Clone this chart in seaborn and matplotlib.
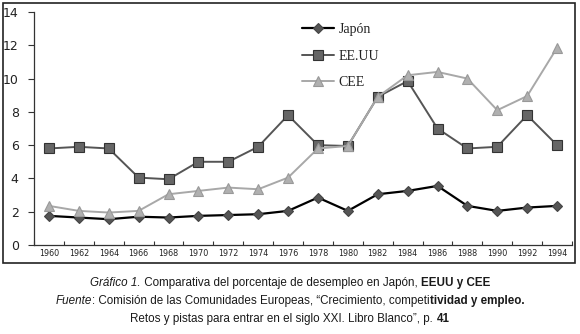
import matplotlib
matplotlib.use("Agg")
import matplotlib.pyplot as plt
import seaborn as sns
import pandas as pd
from matplotlib import font_manager as fm
from matplotlib.patches import Rectangle

years = [1960, 1962, 1964, 1966, 1968, 1970, 1972, 1974, 1976, 1978,
         1980, 1982, 1984, 1986, 1988, 1990, 1992, 1994]
japon = [1.75, 1.65, 1.55, 1.7, 1.65, 1.75, 1.8, 1.85, 2.05, 2.85,
         2.05, 3.05, 3.25, 3.55, 2.35, 2.05, 2.25, 2.35]
eeuu = [5.8, 5.9, 5.8, 4.05, 3.95, 5.0, 5.0, 5.9, 7.8, 6.0,
        5.95, 8.9, 9.85, 7.0, 5.8, 5.9, 7.8, 6.0]
cee = [2.35, 2.05, 1.95, 2.05, 3.05, 3.25, 3.45, 3.35, 4.05, 5.8,
       5.95, 8.9, 10.2, 10.4, 10.0, 8.1, 8.95, 11.85]
series_names = ["Japón", "EE.UU", "CEE"]
yticks = [0, 2, 4, 6, 8, 10, 12, 14]

names = [f.name for f in fm.fontManager.ttflist]
narrow = "Liberation Sans Narrow" if "Liberation Sans Narrow" in names else "Liberation Sans"
serif = "Liberation Serif"

sns.set_theme(style="white")
plt.rcParams["font.family"] = ["DejaVu Sans"]

fig = plt.figure(figsize=(5.8, 3.34), dpi=100)
ax = fig.add_axes([34/580, 1-245/334, (572-34)/580, (245-12)/334])

df = pd.DataFrame({"year": years, "Japón": japon, "EE.UU": eeuu, "CEE": cee})
styles = {
    "Japón": dict(color="black", marker="D", markersize=5, markerfacecolor="#555555",
                  markeredgecolor="#444444", linewidth=1.6),
    "EE.UU": dict(color="#555555", marker="s", markersize=6.5, markerfacecolor="#666666",
                  markeredgecolor="#333333", linewidth=1.4),
    "CEE": dict(color="#a8a8a8", marker="^", markersize=7.5, markerfacecolor="#b0b0b0",
                markeredgecolor="#999999", linewidth=1.4),
}
for name in series_names:
    st = styles[name]
    sns.lineplot(data=df, x="year", y=name, ax=ax, label=name, color=st["color"],
                 marker=st["marker"], markersize=st["markersize"],
                 markerfacecolor=st["markerfacecolor"], markeredgecolor=st["markeredgecolor"],
                 markeredgewidth=0.8, linewidth=st["linewidth"])

ax.set_xlim(years[0] - 1, years[-1] + 1)
ax.set_ylim(0, 14)
ax.set_yticks(yticks)
ax.set_yticklabels([str(v) for v in yticks], fontsize=9, color="#222222")
ax.set_xticks(years)
ax.set_xticklabels([str(y) for y in years], fontsize=5.8, color="#222222")
ax.set_xticks([y - 1 for y in years] + [years[-1] + 1], minor=True)
ax.tick_params(axis="x", which="major", length=0, pad=3)
ax.tick_params(axis="x", which="minor", direction="in", length=3, width=0.8, color="#333333", bottom=True)
ax.tick_params(axis="y", which="major", direction="out", length=4, width=0.8, color="#333333", left=True, pad=7)
ax.set_xlabel("")
ax.set_ylabel("")
for s in ["top", "right"]:
    ax.spines[s].set_visible(False)
for s in ["left", "bottom"]:
    ax.spines[s].set_color("#333333")
    ax.spines[s].set_linewidth(0.9)
ax.grid(False)

leg = ax.legend(loc="upper left", bbox_to_anchor=(0.475, 1.005), frameon=False,
                prop={"family": serif, "size": 10}, handlelength=2.3,
                labelspacing=0.95, handletextpad=0.35)
for t in leg.get_texts():
    t.set_color("#222222")

fig.patches.append(Rectangle((3/580, 1-263/334), 572/580, 260/334, transform=fig.transFigure,
                             fill=False, edgecolor="#222222", linewidth=1.2))

caption = [
    (283, [("Gráfico 1.", "italic", "normal"), (" Comparativa del porcentaje de desempleo en Japón, ", "normal", "normal"),
           ("EEUU y CEE", "normal", "bold")]),
    (301, [("Fuente", "italic", "normal"), (": Comisión de las Comunidades Europeas, “Crecimiento, competi", "normal", "normal"),
           ("tividad y empleo.", "normal", "bold")]),
    (319, [("Retos y pistas para entrar en el siglo XXI. Libro Blanco”, p. ", "normal", "normal"),
           ("41", "normal", "bold")]),
]
cap_size = 10 if narrow == "Liberation Sans Narrow" else 8.4
fig.canvas.draw()
renderer = fig.canvas.get_renderer()
for ypix, segs in caption:
    texts = []
    total = 0
    for txt, style, weight in segs:
        t = fig.text(0, 1 - ypix/334, txt, fontsize=cap_size, family=narrow, style=style,
                     weight=weight, va="center", ha="left", color="#1a1a1a")
        w = t.get_window_extent(renderer).width
        texts.append((t, w))
        total += w
    x = 290 - total / 2
    for t, w in texts:
        t.set_x(x / 580)
        x += w

fig.savefig("out.png", dpi=100)
